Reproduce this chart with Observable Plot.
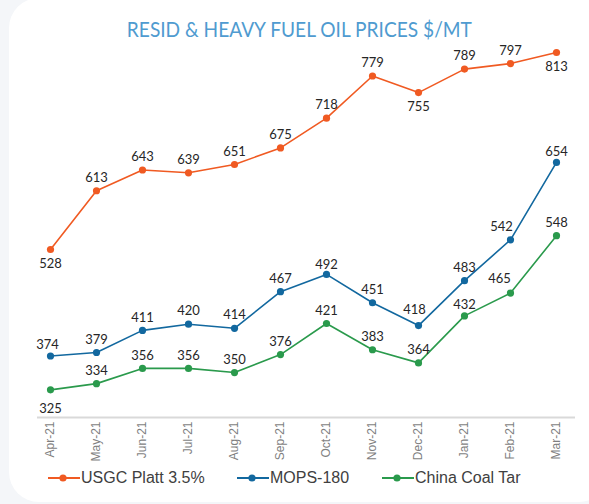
<!DOCTYPE html>
<html><head><meta charset="utf-8">
<script src="https://cdn.jsdelivr.net/npm/d3@7"></script>
<script src="https://cdn.jsdelivr.net/npm/@observablehq/plot@0.6"></script>
<style>
html,body{margin:0;padding:0;background:#f4f6f9;}
#card{position:relative;width:589px;height:504px;overflow:hidden;}
#bg{position:absolute;left:9px;top:-2px;width:600px;height:504px;background:#fff;border-radius:30px;}
#title{position:absolute;left:0;top:17px;width:598px;text-align:center;font-family:Lato,"Open Sans",sans-serif;font-size:21px;line-height:24px;color:#4f9bd0;white-space:nowrap;}
#title span{display:inline-block;transform-origin:center;}
#chart{position:absolute;left:0;top:40px;}
#legend{position:absolute;left:0;top:466px;width:589px;height:24px;font-family:"Liberation Sans",Arial,sans-serif;font-size:16px;color:#404040;}
.item{position:absolute;top:0;height:24px;display:flex;align-items:center;}
.item svg{display:block;}
</style></head>
<body>
<div id="card">
<div id="bg"></div>
<div id="title"><span id="tspan">RESID &amp; HEAVY FUEL OIL PRICES $/MT</span></div>
<div id="chart"></div>
<div id="legend"></div>
</div>
<script>
const months = ["Apr-21","May-21","Jun-21","Jul-21","Aug-21","Sep-21","Oct-21","Nov-21","Dec-21","Jan-21","Feb-21","Mar-21"];
const seriesNames = ["USGC Platt 3.5%","MOPS-180","China Coal Tar"];
const usgc  = [528,613,643,639,651,675,718,779,755,789,797,813];
const mops  = [374,379,411,420,414,467,492,451,418,483,542,654];
const china = [325,334,356,356,350,376,421,383,364,432,465,548];

const colors = ["#f05a22","#12689f","#2a9a4c"];
const values = [usgc, mops, china];

// label offsets (dx, dy) for particular points, default above
function labelOffset(s, i) {
  if (s === 0 && (i === 0 || i === 8 || i === 11)) return [0, 14];
  if (s === 2 && i === 0) return [0, 19];
  if (s === 1 && i === 0) return [-3, -11];
  if (s === 1 && i === 8) return [-4, -16];
  if (s === 1 && i === 10) return [-9, -13];
  if (s === 1 && i === 6) return [0, -10];
  if (s === 2 && i === 10) return [-11, -14];
  if (s === 2 && i === 9) return [0, -11];
  if (s === 1 && i === 11) return [0, -11];
  return [0, -13];
}

const rows = [];
values.forEach((arr, s) => arr.forEach((v, i) => rows.push({series: s, month: months[i], value: v, i})));

const marks = [
  Plot.ruleY([285], {stroke: "#d9d9d9", strokeWidth: 2}),
  Plot.axisX({tickRotate: -90, tickSize: 0, tickPadding: 4, fontSize: 12, fontFamily: "Liberation Sans, Arial, sans-serif", color: "#7f7f7f", label: null})
];
values.forEach((arr, s) => {
  const d = rows.filter(r => r.series === s);
  marks.push(Plot.line(d, {x: "month", y: "value", stroke: colors[s], strokeWidth: 1.6}));
  marks.push(Plot.dot(d, {x: "month", y: "value", fill: colors[s], r: 3.6}));
});
rows.forEach(r => {
  const [dx, dy] = labelOffset(r.series, r.i);
  marks.push(Plot.text([r], {x: "month", y: "value", text: d => String(d.value), dx, dy,
    fontSize: 13, fontFamily: "Lato, sans-serif", fill: "#262626"}));
});

const chart = Plot.plot({
  width: 589,
  height: 425,
  marginLeft: 37,
  marginRight: 14,
  marginTop: 12,
  marginBottom: 48,
  style: {background: "transparent", overflow: "visible"},
  x: {type: "point", domain: months, range: [49, 556.7], padding: 0, label: null},
  y: {domain: [285, 813], axis: null},
  marks
});
document.getElementById("chart").appendChild(chart);

// legend
const legendX = [48, 237, 382];
const legend = document.getElementById("legend");
seriesNames.forEach((name, s) => {
  const div = document.createElement("div");
  div.className = "item";
  div.style.left = legendX[s] + "px";
  div.innerHTML = `<svg width="33" height="24"><line x1="0" x2="32" y1="12" y2="12" stroke="${colors[s]}" stroke-width="2"/><circle cx="15" cy="12" r="3.6" fill="${colors[s]}"/></svg><span>${name}</span>`;
  legend.appendChild(div);
});

// title width fit
const ts = document.getElementById("tspan");
const w = ts.getBoundingClientRect().width;
ts.style.transform = `scaleX(${345 / w})`;
</script>
</body></html>
